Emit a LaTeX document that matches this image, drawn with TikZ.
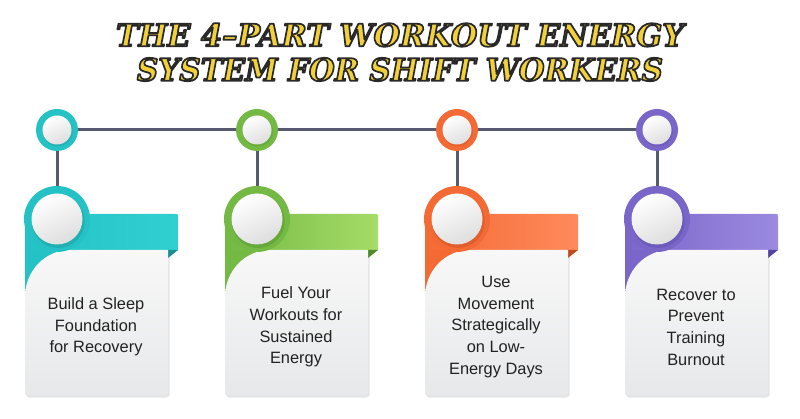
\documentclass[tikz,border=0pt]{standalone}
\usepackage{fontspec}
\usepackage{graphicx}
\setmainfont{Liberation Sans}
\newfontfamily\ttlfont{DejaVu Serif}
\usetikzlibrary{backgrounds,calc}
\definecolor{tealB}{HTML}{25C2C5}
\definecolor{tealL}{HTML}{30CFD0}
\definecolor{tealF}{HTML}{178F92}
\definecolor{greenB}{HTML}{74B943}
\definecolor{greenL}{HTML}{A6DC68}
\definecolor{greenF}{HTML}{4E8A2A}
\definecolor{orangeB}{HTML}{F46A35}
\definecolor{orangeL}{HTML}{FF8A5C}
\definecolor{orangeF}{HTML}{C04A1E}
\definecolor{purpleB}{HTML}{7A66C9}
\definecolor{purpleL}{HTML}{9B8AE0}
\definecolor{purpleF}{HTML}{55449F}
\definecolor{lineC}{HTML}{575A6E}
\definecolor{cardT}{HTML}{F8F8F8}
\definecolor{cardB}{HTML}{E7E8EA}
\definecolor{ttlY}{HTML}{F2D03A}
\definecolor{txtC}{HTML}{222222}
\newcommand{\ttltext}[3]{\resizebox{#2pt}{#3pt}{\fontsize{30}{30}\ttlfont\bfseries\itshape\special{pdf:literal direct 2 Tr 1.7 w 1 j 0.16 0.16 0.16 RG}#1\special{pdf:literal direct 0 Tr}}}
\tikzset{
  ring/.style={circle, inner sep=0pt, minimum size=#1},
  conn/.style={draw=lineC, line width=3pt},
  cardtext/.style={align=center, text=txtC, font=\fontsize{16.4}{21.7}\selectfont},
  ttl/.style={inner sep=0pt, outer sep=0pt}
}
\begin{document}
\begin{tikzpicture}[x=1pt,y=-1pt]
\useasboundingbox (0,0) rectangle (800,419);
\begin{scope}[on background layer]
\fill[white] (0,0) rectangle (800,419);
\end{scope}
% title
\node[ttl, text=ttlY] (title1) at (400,35) {\ttltext{THE 4–PART WORKOUT ENERGY}{568}{23}};
\node[ttl, text=ttlY] (title2) at (400,69.5) {\ttltext{SYSTEM FOR SHIFT WORKERS}{526}{23}};
% cards
\foreach \i/\cx/\cb/\cl/\cf/\txt in {
  1/57/tealB/tealL/tealF/{Build a Sleep\\Foundation\\for Recovery},
  2/257/greenB/greenL/greenF/{Fuel Your\\Workouts for\\Sustained\\Energy},
  3/457/orangeB/orangeL/orangeF/{Use\\Movement\\Strategically\\on Low-\\Energy Days},
  4/657/purpleB/purpleL/purpleF/{Recover to\\Prevent\\Training\\Burnout}}{
  % card shadow
  \fill[black, opacity=0.10, rounded corners=3] (\cx-31,252) rectangle (\cx+112.5,397.5);
  % colored left region
  \fill[\cb] (\cx-32,219) rectangle (\cx+111,300);
  % band
  \shade[left color=\cb, right color=\cl] (\cx-32,250) -- (\cx-32,214) -- (\cx+118,214) .. controls (\cx+121,214) .. (\cx+121,217) -- (\cx+121,250) -- cycle;
  % fold
  \fill[\cf] (\cx+111,250) -- (\cx+121,250) -- (\cx+111,258) -- cycle;
  % white card
  \shade[top color=cardT, bottom color=cardB] (\cx-32,392) -- (\cx-32,297) .. controls (\cx-32,271) and (\cx-12,250) .. (\cx+13,250) -- (\cx+111,250) -- (\cx+111,392) .. controls (\cx+111,395) .. (\cx+108,395) -- (\cx-29,395) .. controls (\cx-32,395) .. (\cx-32,392) -- cycle;
  % big ring
  \node[ring=66pt, fill=\cb] (r\i) at (\cx,219) {};
  \fill[\cf, opacity=0.35] (\cx+1.2,221.5) circle (26.5);
  \shade[top color=white, bottom color=black!13, shading angle=25] (\cx,219) circle (25.5);
  % top ring
  \node[ring=42pt, fill=\cb] (t\i) at (\cx,130) {};
  \fill[\cf, opacity=0.3] (\cx+0.8,131.5) circle (15);
  \shade[top color=white, bottom color=black!13, shading angle=25] (\cx,130) circle (14.5);
  % text
  \node[cardtext] (x\i) at (\cx+39,327) {\txt};
}
\begin{scope}[on background layer]
  \draw[conn] (t1.center) -- (t4.center);
  \foreach \i in {1,2,3,4}
    \draw[conn] (t\i.center) -- (r\i.center);
\end{scope}
\end{tikzpicture}
\end{document}
